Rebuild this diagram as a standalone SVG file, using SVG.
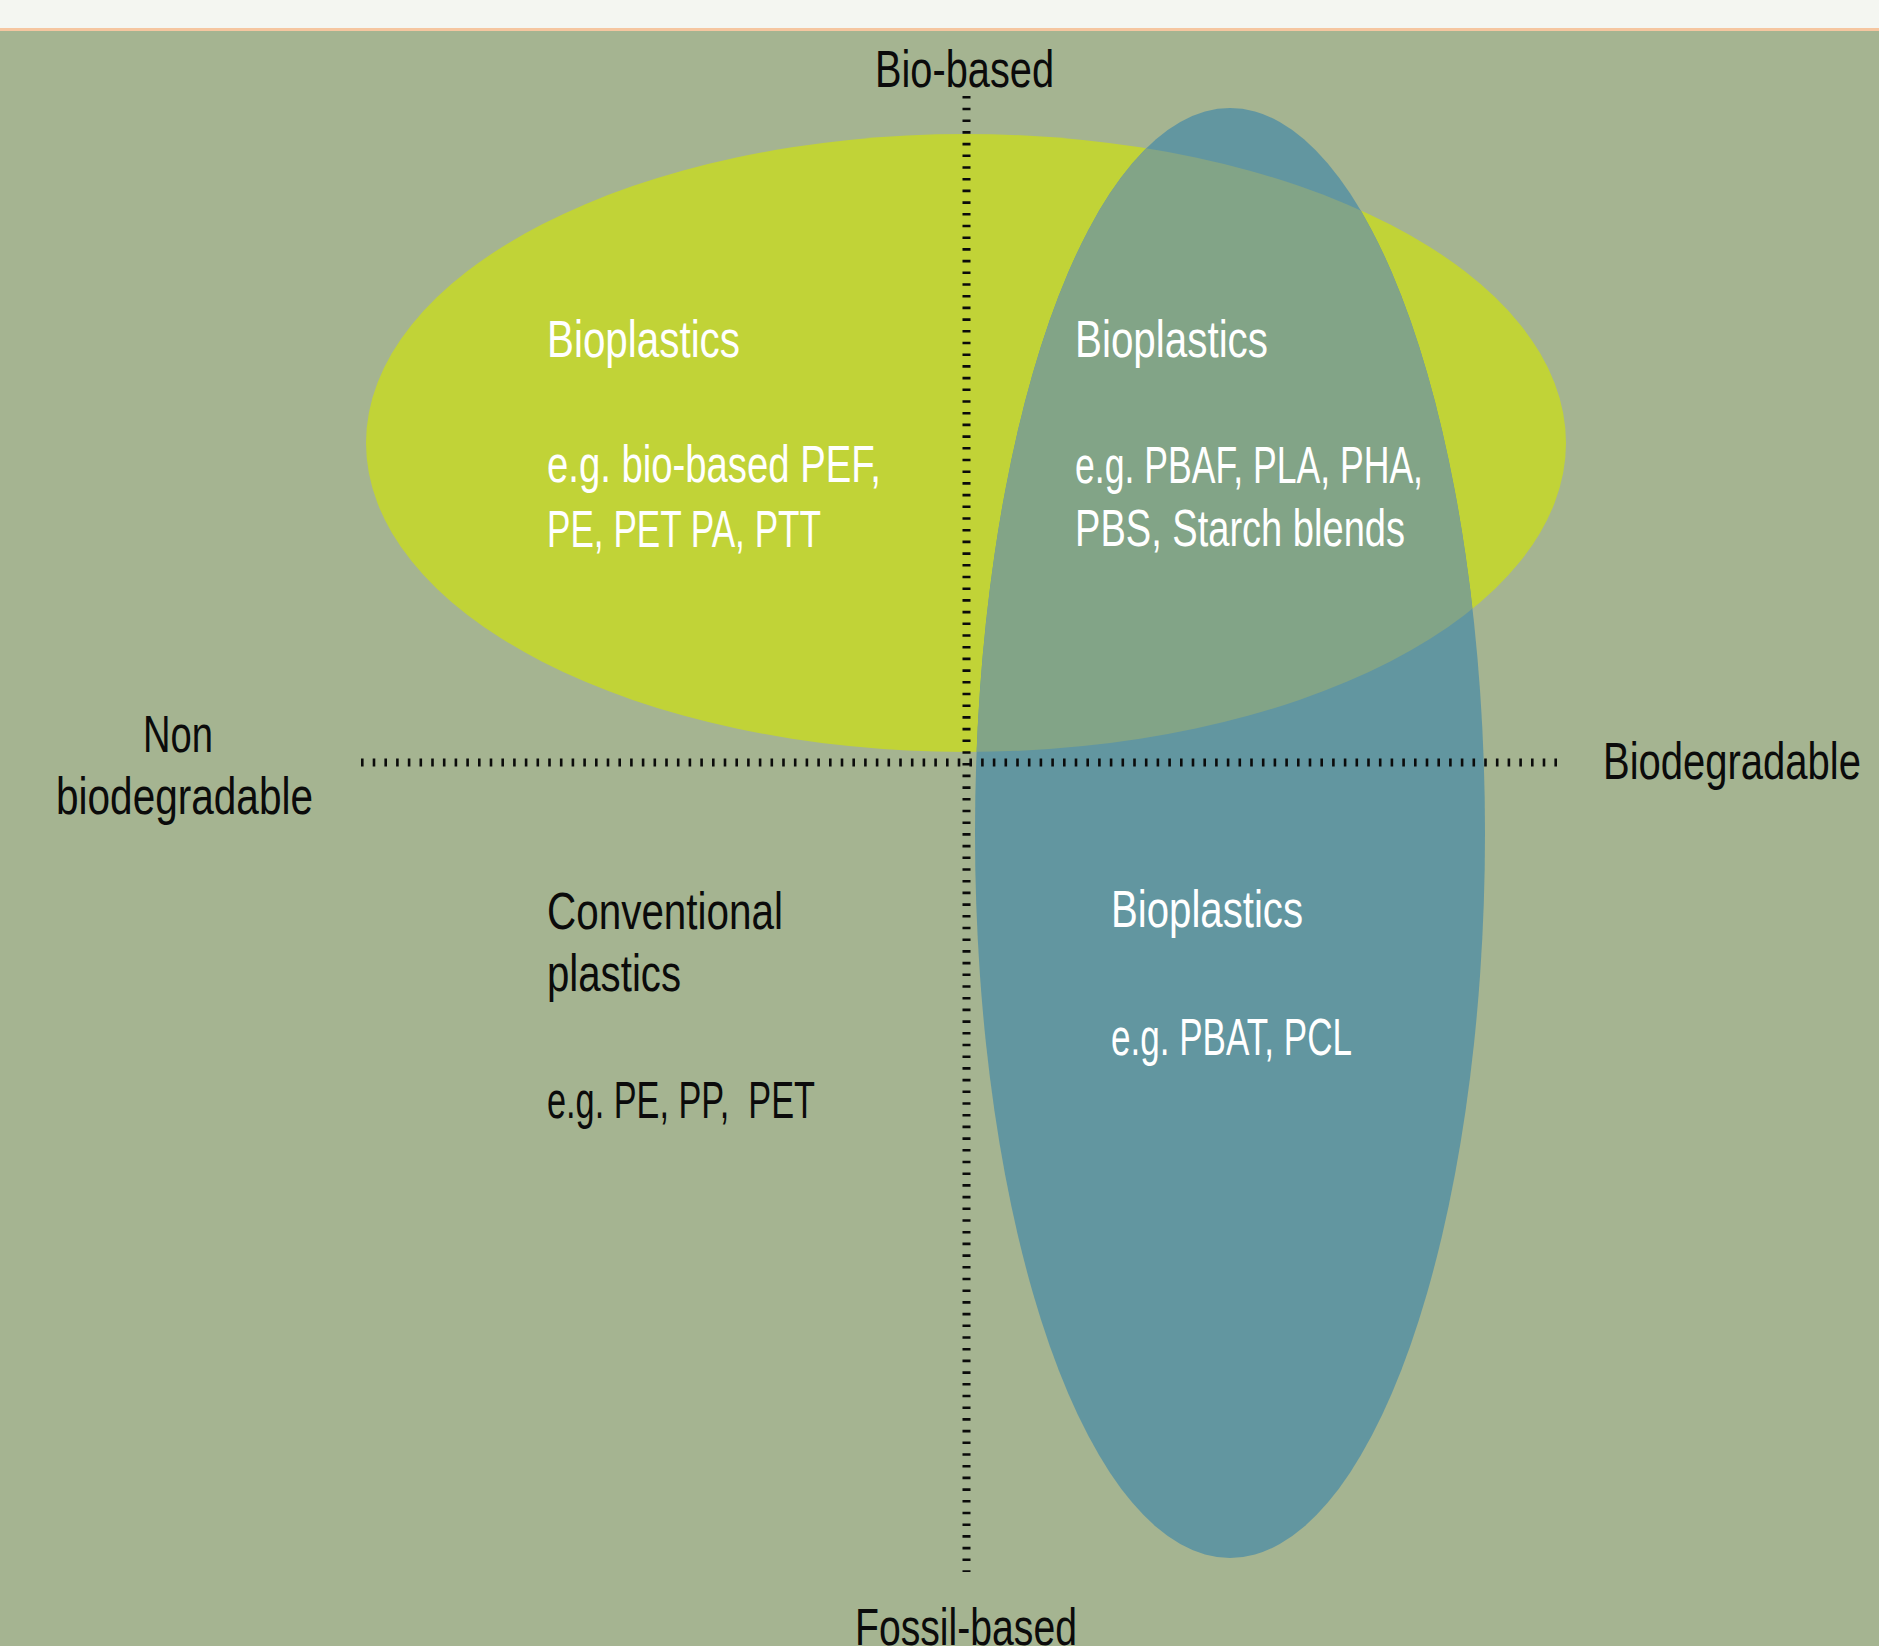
<svg xmlns="http://www.w3.org/2000/svg" width="1879" height="1646" viewBox="0 0 1879 1646">
  <style>
    .lbl { font-family: "Liberation Sans", Arial, sans-serif; font-size: 52px; white-space: pre; }
    .dark { fill: #0b0b0b; }
    .light { fill: #ffffff; }
    .axis { fill: none; stroke: #0b0b0b; stroke-width: 8; stroke-dasharray: 2.6 9.1; }
  </style>
  <defs>
    <clipPath id="clip-biobased">
      <ellipse cx="966" cy="443" rx="600" ry="309"/>
    </clipPath>
  </defs>

  <!-- page background -->
  <rect x="0" y="0" width="1879" height="1646" fill="#a5b491"/>
  <rect x="0" y="0" width="1879" height="29" fill="#f4f6f1"/>
  <rect x="0" y="28" width="1879" height="3" fill="#f5c6a0"/>

  <!-- bio-based region -->
  <g id="bio-based-region">
    <ellipse cx="966" cy="443" rx="600" ry="309" fill="#c1d337"/>
  </g>

  <!-- biodegradable region -->
  <g id="biodegradable-region">
    <ellipse cx="1230" cy="833" rx="255" ry="725" fill="#6296a0"/>
  </g>

  <!-- bio-based and biodegradable overlap -->
  <g id="overlap-region">
    <ellipse cx="1230" cy="833" rx="255" ry="725" fill="#82a487" clip-path="url(#clip-biobased)"/>
  </g>

  <!-- axes -->
  <g id="connectors">
    <line class="axis" x1="361" y1="762.5" x2="1562" y2="762.5"/>
    <line class="axis" x1="966.5" y1="96" x2="966.5" y2="1572"/>
  </g>

  <!-- quadrant labels -->
  <g id="bio-nonbiodegradable">
    <text class="lbl light" x="547" y="357" textLength="193" lengthAdjust="spacingAndGlyphs">Bioplastics</text>
    <text class="lbl light" x="547" y="482" textLength="334" lengthAdjust="spacingAndGlyphs">e.g. bio-based PEF,</text>
    <text class="lbl light" x="547" y="547" textLength="274" lengthAdjust="spacingAndGlyphs">PE, PET PA, PTT</text>
  </g>
  <g id="bio-biodegradable">
    <text class="lbl light" x="1075" y="357" textLength="193" lengthAdjust="spacingAndGlyphs">Bioplastics</text>
    <text class="lbl light" x="1075" y="483" textLength="348" lengthAdjust="spacingAndGlyphs">e.g. PBAF, PLA, PHA,</text>
    <text class="lbl light" x="1075" y="546" textLength="330" lengthAdjust="spacingAndGlyphs">PBS, Starch blends</text>
  </g>
  <g id="fossil-nonbiodegradable">
    <text class="lbl dark" x="547" y="929" textLength="236" lengthAdjust="spacingAndGlyphs">Conventional</text>
    <text class="lbl dark" x="547" y="991" textLength="134" lengthAdjust="spacingAndGlyphs">plastics</text>
    <text class="lbl dark" x="547" y="1118" textLength="268" lengthAdjust="spacingAndGlyphs">e.g. PE, PP,  PET</text>
  </g>
  <g id="fossil-biodegradable">
    <text class="lbl light" x="1111" y="927" textLength="192" lengthAdjust="spacingAndGlyphs">Bioplastics</text>
    <text class="lbl light" x="1111" y="1055" textLength="241" lengthAdjust="spacingAndGlyphs">e.g. PBAT, PCL</text>
  </g>

  <!-- axis labels -->
  <g id="label-bio-based">
    <text class="lbl dark" x="875" y="87" textLength="179" lengthAdjust="spacingAndGlyphs">Bio-based</text>
  </g>
  <g id="label-fossil-based">
    <text class="lbl dark" x="855" y="1645" textLength="222" lengthAdjust="spacingAndGlyphs">Fossil-based</text>
  </g>
  <g id="label-non-biodegradable">
    <text class="lbl dark" x="143" y="752" textLength="70" lengthAdjust="spacingAndGlyphs">Non</text>
    <text class="lbl dark" x="56" y="814" textLength="257" lengthAdjust="spacingAndGlyphs">biodegradable</text>
  </g>
  <g id="label-biodegradable">
    <text class="lbl dark" x="1603" y="779" textLength="258" lengthAdjust="spacingAndGlyphs">Biodegradable</text>
  </g>
</svg>
